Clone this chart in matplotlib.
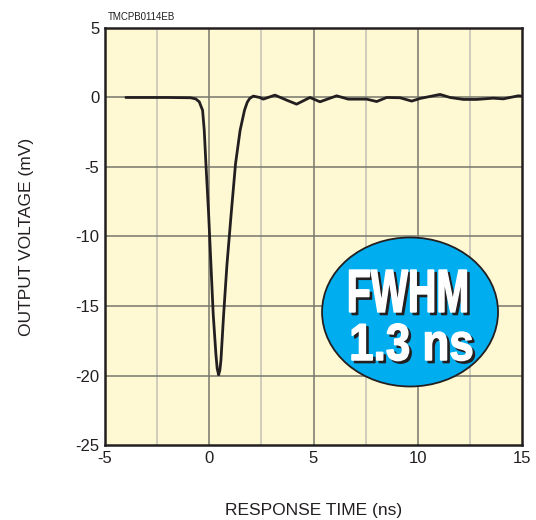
import matplotlib
matplotlib.use("Agg")
import matplotlib.pyplot as plt
from matplotlib.patches import Ellipse, PathPatch
from matplotlib.textpath import TextPath
from matplotlib.font_manager import FontProperties
from matplotlib.transforms import Affine2D, ScaledTranslation

# data
time_ns = [-4.0, -2.0, -0.9, -0.65, -0.48, -0.32, -0.24, -0.16, -0.03, 0.08, 0.19, 0.32, 0.38,
           0.45, 0.51, 0.56, 0.69, 0.85, 1.05, 1.26, 1.48, 1.69, 1.82, 1.94, 2.11, 2.42, 2.59,
           3.15, 3.71, 4.19, 4.83, 5.31, 6.11, 6.67, 7.55, 8.03, 8.51, 9.15, 9.71, 10.11,
           11.07, 11.55, 12.19, 12.83, 13.62, 14.10, 14.82, 15.0]
voltage_mv = [0.0, 0.0, -0.02, -0.1, -0.31, -0.92, -2.36, -4.77, -8.39, -12.0, -15.6, -18.5, -19.5,
              -19.95, -19.6, -18.9, -15.6, -12.0, -8.39, -4.77, -2.36, -0.92, -0.35, -0.07, 0.1,
              0.0, -0.12, 0.17, -0.19, -0.48, 0.0, -0.31, 0.12, -0.12, -0.12, -0.29, 0.0, -0.02,
              -0.26, -0.07, 0.22, 0.0, -0.14, -0.14, -0.05, -0.1, 0.12, 0.1]
x_ticks = [-5, 0, 5, 10, 15]
y_ticks = [5, 0, -5, -10, -15, -20, -25]
x_minor = [-2.5, 2.5, 7.5, 12.5]
badge_lines = ['FWHM', '1.3 ns']

plt.rcParams['font.family'] = ['Liberation Sans', 'DejaVu Sans']

fig = plt.figure(figsize=(5.36, 5.20), dpi=100)
ax = fig.add_axes([0.1959, 0.1442, 0.7780, 0.8020])
ax.set_facecolor('#fff9d3')
ax.set_xlim(-5, 15)
ax.set_ylim(-25, 5)

for xm in x_minor:
    ax.axvline(xm, color='#cbc9bd', lw=1.3, zorder=1)
for xv in x_ticks[1:-1]:
    ax.axvline(xv, color='#77776c', lw=1.1, zorder=1.1)
for yv in y_ticks[1:-1]:
    ax.axhline(yv, color='#77776c', lw=1.1, zorder=1.1)

ax.plot(time_ns, voltage_mv, color='#231f20', lw=2.0, zorder=3,
        solid_joinstyle='round', solid_capstyle='round')

ax.set_xticks(x_ticks)
ax.set_xticklabels([str(v) for v in x_ticks])
ax.set_yticks(y_ticks)
ax.set_yticklabels([str(v) for v in y_ticks])
ax.tick_params(length=0, labelsize=12, pad=4, colors='#231f20')
for s in ax.spines.values():
    s.set_linewidth(1.8)
    s.set_color('#231f20')
    s.set_zorder(5)

ax.set_xlabel('RESPONSE TIME (ns)', fontsize=12.5, labelpad=27, color='#231f20')
ax.set_ylabel('OUTPUT VOLTAGE (mV)', fontsize=12.5, labelpad=30, color='#231f20')

ell = Ellipse((9.63, -15.43), 8.44, 10.72, facecolor='#00aeef', edgecolor='#231f20',
              lw=1.3, zorder=6)
ax.add_patch(ell)

# condensed heavy lettering with a drop shadow (sizes in pixels)
fp = FontProperties(family='Liberation Sans', weight='bold')
specs = [(badge_lines[0], 9.53, -13.92, 117, 42), (badge_lines[1], 9.72, -17.60, 120, 37)]
for txt, cx, cy, w_px, h_px in specs:
    tp = TextPath((0, 0), txt, size=40, prop=fp)
    bb = tp.get_extents()
    base = (Affine2D().translate(-(bb.x0 + bb.width / 2), -(bb.y0 + bb.height / 2))
            .scale(w_px / bb.width, h_px / bb.height))
    anchor = ScaledTranslation(cx, cy, ax.transData)
    sh = PathPatch(tp, facecolor='#231f20', edgecolor='#231f20', lw=1.0, zorder=7,
                   transform=base + Affine2D().translate(2.6, -2.6) + anchor)
    fg = PathPatch(tp, facecolor='white', edgecolor='white', lw=1.0, zorder=8,
                   transform=base + anchor)
    ax.add_patch(sh)
    ax.add_patch(fg)

fig.text(108 / 536, 1 - 17 / 520, 'TMCPB0114EB', fontsize=7, ha='left', va='center',
         color='#231f20')

fig.savefig('out.png', dpi=100)
